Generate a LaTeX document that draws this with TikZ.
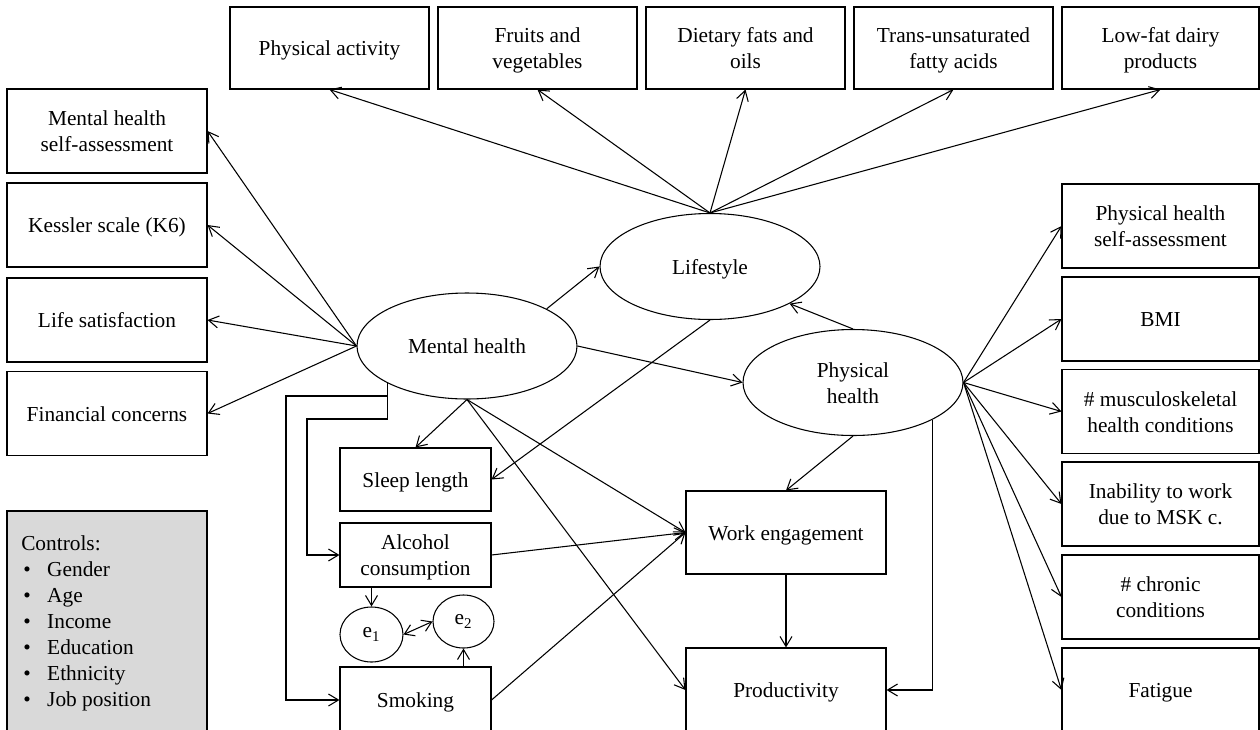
\documentclass[tikz,border=0pt]{standalone}
\usepackage{fontspec}
\setmainfont{Liberation Serif}
\usetikzlibrary{arrows.meta,shapes.geometric}
\definecolor{ctrlgray}{HTML}{D9D9D9}
\newcommand\bt[1]{\raisebox{-2pt}[\height][\depth]{\begin{tabular}{@{}c@{}}#1\end{tabular}}}
\begin{document}
\begin{tikzpicture}[x=0.75pt,y=-0.75pt,
  font=\fontsize{16}{19.5}\selectfont,
  box/.style={draw, line width=0.8pt, inner sep=2pt},
  tw/.style={minimum width=149.25pt, minimum height=61.5pt},
  lw/.style={minimum width=150pt, minimum height=63pt},
  rw/.style={minimum width=147.75pt, minimum height=63pt},
  lat/.style={draw, ellipse, line width=0.8pt, inner sep=0pt, align=center},
  big/.style={minimum width=165pt, minimum height=79.5pt},
  arr/.style={draw, line width=0.8pt, -{Straight Barb[length=7.5pt,width=9pt]}},
  dbl/.style={draw, line width=0.8pt, {Straight Barb[length=7pt,width=9pt]}-{Straight Barb[length=7pt,width=9pt]}}
]
\useasboundingbox (0,0) rectangle (1260,729);
% top row
\node[box,tw] (pa) at (329.5,48) {\bt{Physical activity}};
\node[box,tw] (fv) at (537.5,48) {\bt{Fruits and\\vegetables}};
\node[box,tw] (df) at (745.5,48) {\bt{Dietary fats and\\oils}};
\node[box,tw] (tu) at (953.5,48) {\bt{Trans-unsaturated\\fatty acids}};
\node[box,rw,minimum height=61.5pt] (lf) at (1160.5,48) {\bt{Low-fat dairy\\products}};
% left column
\node[box,lw] (mhsa) at (107,131) {\bt{Mental health\\self-assessment}};
\node[box,lw] (k6) at (107,225) {\bt{Kessler scale (K6)}};
\node[box,lw] (lsat) at (107,320) {\bt{Life satisfaction}};
\node[box,lw] (fc) at (107,413.5) {\bt{Financial concerns}};
\node[draw, line width=0.8pt, fill=ctrlgray, minimum width=150pt, minimum height=168pt] (ctrl) at (107,623) {};
\node[anchor=base west, inner sep=0pt] (ctrltxt) at (21,550) {\begin{tabular}[t]{@{}l@{}l@{}}
\multicolumn{2}{@{}l@{}}{Controls:}\\
\hspace{1.5pt}\makebox[18pt][l]{•} & Gender\\
\hspace{1.5pt}\makebox[18pt][l]{•} & Age\\
\hspace{1.5pt}\makebox[18pt][l]{•} & Income\\
\hspace{1.5pt}\makebox[18pt][l]{•} & Education\\
\hspace{1.5pt}\makebox[18pt][l]{•} & Ethnicity\\
\hspace{1.5pt}\makebox[18pt][l]{•} & Job position
\end{tabular}};
% right column
\node[box,rw] (phsa) at (1160.5,226) {\bt{Physical health\\self-assessment}};
\node[box,rw] (bmi) at (1160.5,319) {\bt{BMI}};
\node[box,rw] (msk) at (1160.5,411.5) {\bt{\# musculoskeletal\\health conditions}};
\node[box,rw] (inab) at (1160.5,504) {\bt{Inability to work\\due to MSK c.}};
\node[box,rw] (chr) at (1160.5,597) {\bt{\# chronic\\conditions}};
\node[box,rw] (fat) at (1160.5,690) {\bt{Fatigue}};
% latent variables
\node[lat,big] (ls) at (710,266.5) {\bt{Lifestyle}};
\node[lat,big] (mh) at (467,346) {\bt{Mental health}};
\node[lat,big] (ph) at (853,382.5) {\bt{Physical\\health}};
% middle boxes
\node[box,minimum width=113.25pt,minimum height=47.25pt] (sl) at (415.5,479.5) {\bt{Sleep length}};
\node[box,minimum width=113.25pt,minimum height=48pt] (alc) at (415.5,555) {\bt{Alcohol\\consumption}};
\node[box,minimum width=113.25pt,minimum height=49.5pt] (smk) at (415.5,700) {\bt{Smoking}};
\node[lat,minimum width=47.25pt,minimum height=41.25pt] (e1) at (371.5,634.5) {e\textsubscript{1}};
\node[lat,minimum width=45.75pt,minimum height=39.75pt] (e2) at (463.5,621.5) {e\textsubscript{2}};
\node[box,minimum width=150pt,minimum height=62.25pt] (we) at (786,532.5) {\bt{Work engagement}};
\node[box,minimum width=150pt,minimum height=63pt] (prod) at (786,690) {\bt{Productivity}};
% connectors
\foreach \t in {pa,fv,df,tu,lf} \draw[arr] (ls.north) -- (\t.south);
\foreach \t in {mhsa,k6,lsat,fc} \draw[arr] (mh.west) -- (\t.east);
\foreach \t in {phsa,bmi,msk,inab,chr,fat} \draw[arr] (ph.east) -- (\t.west);
\draw[arr] (mh.25) -- (ls.west);
\draw[arr] (mh.east) -- (ph.west);
\draw[arr] (ph.north) -- (ls.-25);
\draw[arr] (ls.south) -- (sl.east);
\draw[arr] (mh.south) -- (sl.north);
\draw[arr] (mh.south) -- (we.west);
\draw[arr] (mh.south) -- (prod.west);
\draw[arr] (alc.east) -- (we.west);
\draw[arr] (smk.east) -- (we.west);
\draw[arr] (e1.north |- alc.south) -- (e1.north);
\draw[arr] (e2.south |- smk.north) -- (e2.south);
\draw[dbl] (e1.east) -- (e2.west);
\draw[arr] (mh.205) |- (307,419) |- (alc.west);
\draw[arr] (mh.205) |- (286,396) |- (smk.west);
\draw[arr] (ph.-25) |- (prod.east);
\draw[arr] (ph.south) -- (we.north);
\draw[arr] (we.south) -- (prod.north);
\end{tikzpicture}
\end{document}
